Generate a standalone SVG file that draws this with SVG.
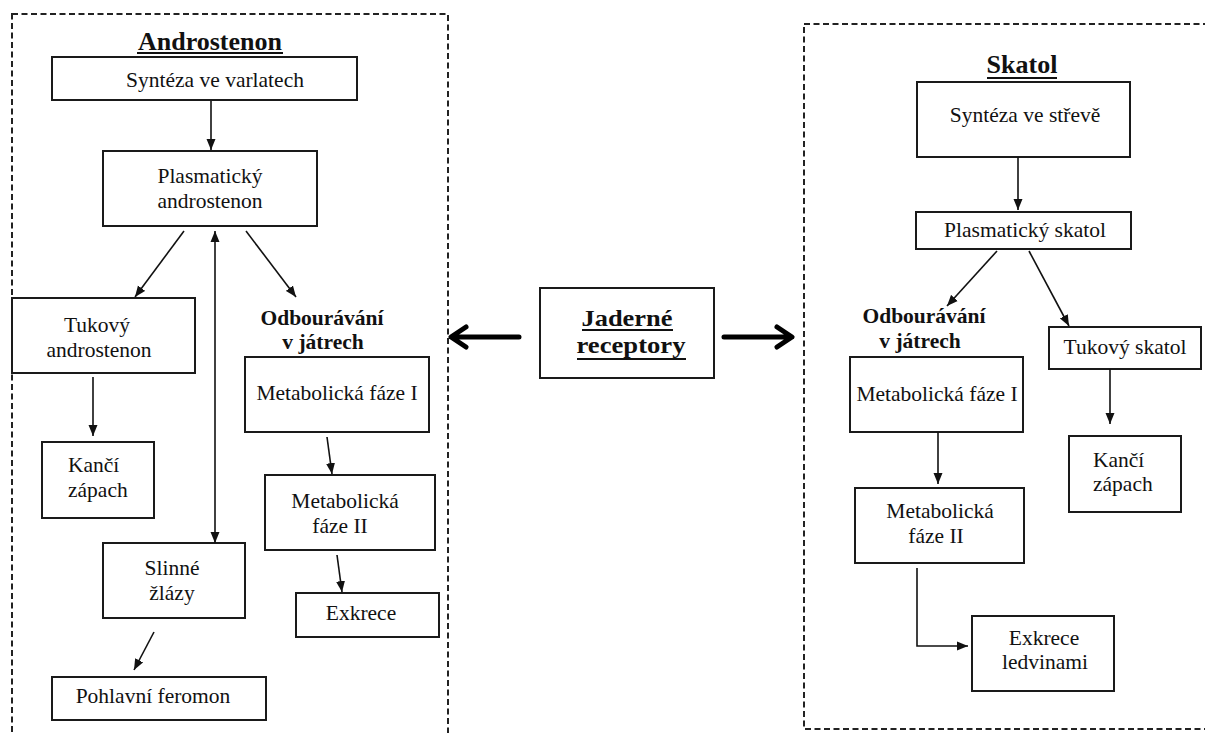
<svg xmlns="http://www.w3.org/2000/svg" width="1205" height="733" viewBox="0 0 1205 733">
<style>
.box{fill:#fff;stroke:#1a1a1a;stroke-width:2}
.dash{fill:none;stroke:#222;stroke-width:2;stroke-dasharray:6 3.5}
.t{font-family:"Liberation Serif","Times New Roman",serif;font-size:21.5px;fill:#111;text-anchor:middle}
.ts{font-family:"Liberation Serif","Times New Roman",serif;font-size:21.5px;fill:#111}
.b{font-family:"Liberation Serif","Times New Roman",serif;font-size:21.5px;font-weight:bold;fill:#111;text-anchor:middle}
.h{font-family:"Liberation Serif","Times New Roman",serif;font-size:26px;font-weight:bold;fill:#111;text-anchor:middle}
.hj{font-family:"Liberation Serif","Times New Roman",serif;font-size:24px;font-weight:bold;fill:#111;text-anchor:middle}
.ul{stroke:#111;stroke-width:1.8}
.c{fill:none;stroke:#111;stroke-width:1.6}
.big{fill:none;stroke:#000;stroke-width:5;stroke-linecap:round;stroke-linejoin:round}
</style>
<defs>
<marker id="ah" markerUnits="userSpaceOnUse" markerWidth="12" markerHeight="10" refX="11" refY="5" orient="auto-start-reverse">
<path d="M0,0.5 L11,5 L0,9.5 z" fill="#111"/>
</marker>
</defs>

<rect class="dash" x="12" y="14" width="436" height="740"/>
<rect class="dash" x="804" y="24" width="430" height="705"/>

<g id="title-androstenon">
<text class="h" x="210" y="50">Androstenon</text>
<line class="ul" x1="137" y1="53" x2="283" y2="53"/>
</g>
<g id="syntheza-varlata"><rect class="box" x="52" y="57" width="305" height="43"/><text class="t" x="215" y="87">Syntéza ve varlatech</text></g>
<g id="plasmaticky-androstenon"><rect class="box" x="103" y="151" width="214" height="75"/><text class="t" x="210" y="183">Plasmatický</text><text class="t" x="210" y="208">androstenon</text></g>
<g id="tukovy-androstenon"><rect class="box" x="12" y="298" width="183" height="75"/><text class="t" x="97" y="332">Tukový</text><text class="t" x="99" y="357">androstenon</text></g>
<g id="kanci-zapach-l"><rect class="box" x="42" y="442" width="112" height="76"/><text class="ts" x="68" y="472">Kančí</text><text class="ts" x="68" y="497">zápach</text></g>
<g id="slinne-zlazy"><rect class="box" x="103" y="543" width="142" height="75"/><text class="t" x="172" y="575">Slinné</text><text class="t" x="172" y="600">žlázy</text></g>
<g id="pohlavni-feromon"><rect class="box" x="52" y="677" width="214" height="43"/><text class="t" x="153" y="703">Pohlavní feromon</text></g>
<g id="odbouravani-l"><text class="b" x="322" y="325">Odbourávání</text><text class="b" x="323" y="349">v játrech</text></g>
<g id="met1-l"><rect class="box" x="245" y="357" width="184" height="75"/><text class="t" x="337" y="400">Metabolická fáze I</text></g>
<g id="met2-l"><rect class="box" x="265" y="475" width="170" height="75"/><text class="t" x="345" y="508">Metabolická</text><text class="t" x="340" y="533">fáze II</text></g>
<g id="exkrece-l"><rect class="box" x="296" y="593" width="143" height="44"/><text class="t" x="361" y="620">Exkrece</text></g>

<g id="jaderne-receptory">
<rect class="box" x="540" y="288" width="174" height="90"/>
<text class="hj" x="627" y="326" textLength="91" lengthAdjust="spacingAndGlyphs">Jaderné</text>
<line class="ul" x1="582" y1="330" x2="673" y2="330"/>
<text class="hj" x="631" y="353" textLength="109" lengthAdjust="spacingAndGlyphs">receptory</text>
<line class="ul" x1="577" y1="359" x2="686" y2="359"/>
</g>

<g id="title-skatol">
<text class="h" x="1022" y="73">Skatol</text>
<line class="ul" x1="987" y1="78" x2="1057" y2="78"/>
</g>
<g id="syntheza-streve"><rect class="box" x="917" y="82" width="213" height="75"/><text class="t" x="1025" y="122">Syntéza ve střevě</text></g>
<g id="plasmaticky-skatol"><rect class="box" x="916" y="212" width="215" height="37"/><text class="t" x="1025" y="237">Plasmatický skatol</text></g>
<g id="odbouravani-r"><text class="b" x="924" y="323">Odbourávání</text><text class="b" x="920" y="348">v játrech</text></g>
<g id="tukovy-skatol"><rect class="box" x="1049" y="327" width="152" height="42"/><text class="t" x="1125" y="354">Tukový skatol</text></g>
<g id="kanci-zapach-r"><rect class="box" x="1069" y="436" width="112" height="76"/><text class="ts" x="1093" y="467">Kančí</text><text class="ts" x="1093" y="491">zápach</text></g>
<g id="met1-r"><rect class="box" x="850" y="357" width="173" height="75"/><text class="t" x="937" y="401">Metabolická fáze I</text></g>
<g id="met2-r"><rect class="box" x="855" y="488" width="169" height="75"/><text class="t" x="940" y="518">Metabolická</text><text class="t" x="936" y="543">fáze II</text></g>
<g id="exkrece-ledvinami"><rect class="box" x="972" y="616" width="142" height="75"/><text class="t" x="1044" y="645">Exkrece</text><text class="t" x="1045" y="669">ledvinami</text></g>

<g id="connectors">
<line class="c" x1="211" y1="101" x2="211" y2="150" marker-end="url(#ah)"/>
<line class="c" x1="184" y1="231" x2="135" y2="297" marker-end="url(#ah)"/>
<line class="c" x1="246" y1="231" x2="296" y2="297" marker-end="url(#ah)"/>
<line class="c" x1="215" y1="231" x2="215" y2="543" marker-start="url(#ah)" marker-end="url(#ah)"/>
<line class="c" x1="93" y1="377" x2="93" y2="436" marker-end="url(#ah)"/>
<line class="c" x1="154" y1="632" x2="134" y2="670" marker-end="url(#ah)"/>
<line class="c" x1="327" y1="437" x2="332" y2="474" marker-end="url(#ah)"/>
<line class="c" x1="337" y1="555" x2="342" y2="592" marker-end="url(#ah)"/>

<line class="c" x1="1018" y1="157" x2="1018" y2="210" marker-end="url(#ah)"/>
<line class="c" x1="997" y1="251" x2="947" y2="306" marker-end="url(#ah)"/>
<line class="c" x1="1029" y1="251" x2="1069" y2="326" marker-end="url(#ah)"/>
<line class="c" x1="1110" y1="369" x2="1110" y2="424" marker-end="url(#ah)"/>
<line class="c" x1="938" y1="432" x2="938" y2="484" marker-end="url(#ah)"/>
<polyline class="c" points="917,568 917,646 968,646" marker-end="url(#ah)"/>

<path class="big" d="M519,337 L452,337 M466,327 L451,337 L466,347"/>
<path class="big" d="M724,337 L791,337 M777,327 L792,337 L777,347"/>
</g>
</svg>
